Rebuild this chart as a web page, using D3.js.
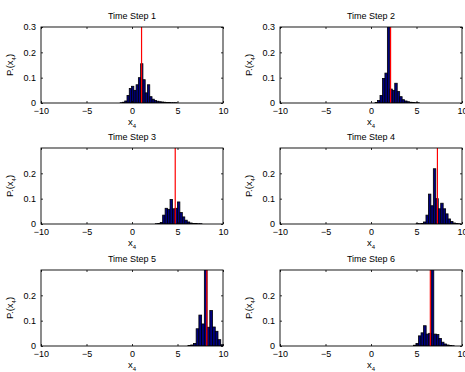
<!DOCTYPE html>
<html>
<head>
<meta charset="utf-8">
<script src="https://cdn.jsdelivr.net/npm/d3@7"></script>
<style>
  body { margin: 0; background: #fff; }
  svg { display: block; font-family: "Liberation Sans", Arial, sans-serif; }
</style>
</head>
<body>
<svg id="chart" width="465" height="372"></svg>
<script>
// panel titles, one per time step
const titles = ["Time Step 1", "Time Step 2", "Time Step 3", "Time Step 4", "Time Step 5", "Time Step 6"];

// histogram bins: left edge of first bin, bin width, and probabilities
const binStart = [-1.3, 0.45, 2.56, 4.96, 6.15, 4.66];
const binWidth = [0.25, 0.27, 0.27, 0.27, 0.3, 0.28];
const probs1 = [0.001, 0.003, 0.008, 0.03, 0.057, 0.066, 0.05, 0.072, 0.1, 0.155, 0.092, 0.04, 0.072, 0.025, 0.015, 0.01, 0.007, 0.005, 0.004, 0.003, 0.002, 0.002, 0.001, 0.001, 0.001];
const probs2 = [0.002, 0.01, 0.03, 0.097, 0.118, 0.35, 0.055, 0.05, 0.078, 0.045, 0.025, 0.013, 0.008, 0.005, 0.003, 0.002, 0.001, 0.001];
const probs3 = [0.001, 0.002, 0.006, 0.035, 0.062, 0.058, 0.097, 0.06, 0.062, 0.087, 0.045, 0.028, 0.015, 0.008, 0.004, 0.002, 0.002, 0.001, 0.001];
const probs4 = [0.001, 0.001, 0.002, 0.008, 0.035, 0.118, 0.072, 0.218, 0.1, 0.06, 0.082, 0.06, 0.04, 0.02, 0.01, 0.004, 0.002, 0.001];
const probs5 = [0.002, 0.004, 0.01, 0.068, 0.122, 0.087, 0.35, 0.074, 0.14, 0.075, 0.058, 0.025, 0.005];
const probs6 = [0.003, 0.01, 0.04, 0.052, 0.08, 0.047, 0.05, 0.35, 0.047, 0.045, 0.03, 0.015, 0.008, 0.004, 0.002, 0.001];
const probs = [probs1, probs2, probs3, probs4, probs5, probs6];

// true state (red line)
const truth = [1.05, 2.15, 4.75, 7.3, 8.22, 6.52];

// axis limits and ticks
const xDomain = [-10, 10];
const xTicks = [-10, -5, 0, 5, 10];
const yMax = [0.3, 0.3, 0.2999, 0.2999, 0.2999, 0.2999];
const yTicksTop = [0, 0.1, 0.2, 0.3];
const yTicksRest = [0, 0.1, 0.2];

const svg = d3.select("#chart");

const colLeft = [41, 280];
const rowTop = [27, 148, 270];
const pw = 182, ph = 76;
const tickLen = 2;
const fmt = d => (d === 0 ? "0" : d3.format(".1f")(d));
const fmtX = d => (d < 0 ? "\u2212" + Math.abs(d) : String(d));

titles.forEach((title, i) => {
  const left = colLeft[i % 2];
  const top = rowTop[Math.floor(i / 2)];
  const g = svg.append("g").attr("transform", `translate(${left},${top})`);

  const x = d3.scaleLinear().domain(xDomain).range([0, pw]);
  const y = d3.scaleLinear().domain([0, yMax[i]]).range([ph, 0]);
  const yTicks = i < 2 ? yTicksTop : yTicksRest;

  g.append("clipPath").attr("id", "clip" + i)
    .append("rect").attr("width", pw).attr("height", ph);

  const bins = probs[i].map((p, k) => ({
    x0: binStart[i] + k * binWidth[i],
    x1: binStart[i] + (k + 1) * binWidth[i],
    p: p
  }));

  const plot = g.append("g").attr("clip-path", `url(#clip${i})`);
  plot.selectAll("rect.bar")
    .data(bins)
    .join("rect")
    .attr("class", "bar")
    .attr("x", d => x(d.x0))
    .attr("width", d => x(d.x1) - x(d.x0))
    .attr("y", d => y(d.p))
    .attr("height", d => ph - y(d.p))
    .attr("fill", "#000080")
    .attr("stroke", "#000")
    .attr("stroke-width", 0.8);

  plot.append("line")
    .attr("x1", x(truth[i])).attr("x2", x(truth[i]))
    .attr("y1", 0).attr("y2", ph)
    .attr("stroke", "#ff0000")
    .attr("stroke-width", 1.2);

  // inward ticks on all four sides, like a boxed axes
  const bottomAx = d3.axisBottom(x).tickValues(xTicks).tickSize(-tickLen).tickPadding(5).tickFormat(fmtX);
  const topAx = d3.axisTop(x).tickValues(xTicks).tickSize(-tickLen).tickFormat("");
  const leftAx = d3.axisLeft(y).tickValues(yTicks).tickSize(-tickLen).tickPadding(5).tickFormat(fmt);
  const rightAx = d3.axisRight(y).tickValues(yTicks).tickSize(-tickLen).tickFormat("");

  const axes = [
    g.append("g").attr("transform", `translate(0,${ph})`).call(bottomAx),
    g.append("g").call(topAx),
    g.append("g").call(leftAx),
    g.append("g").attr("transform", `translate(${pw},0)`).call(rightAx)
  ];
  axes.forEach(a => {
    a.select(".domain").remove();
    a.selectAll("line").attr("stroke", "#000").attr("stroke-width", 0.8);
    a.selectAll("text").attr("font-size", 9).attr("fill", "#000")
      .attr("font-family", "'Liberation Sans', Arial, sans-serif");
  });

  g.append("rect")
    .attr("width", pw).attr("height", ph)
    .attr("fill", "none").attr("stroke", "#000").attr("stroke-width", 0.9);

  g.append("text")
    .attr("x", pw / 2).attr("y", -8)
    .attr("text-anchor", "middle")
    .attr("font-size", 9)
    .text(title);

  const xl = g.append("text")
    .attr("x", pw / 2).attr("y", ph + 22)
    .attr("text-anchor", "middle")
    .attr("font-size", 9.5);
  xl.append("tspan").text("x");
  xl.append("tspan").attr("dy", 3).attr("font-size", 6).text("4");

  const yl = g.append("text")
    .attr("transform", `translate(-28,${ph / 2}) rotate(-90)`)
    .attr("text-anchor", "middle")
    .attr("font-size", 9.5);
  yl.append("tspan").text("P.(x");
  yl.append("tspan").attr("dy", 3).attr("font-size", 6).text("4");
  yl.append("tspan").attr("dy", -3).text(")");
});
</script>
</body>
</html>
